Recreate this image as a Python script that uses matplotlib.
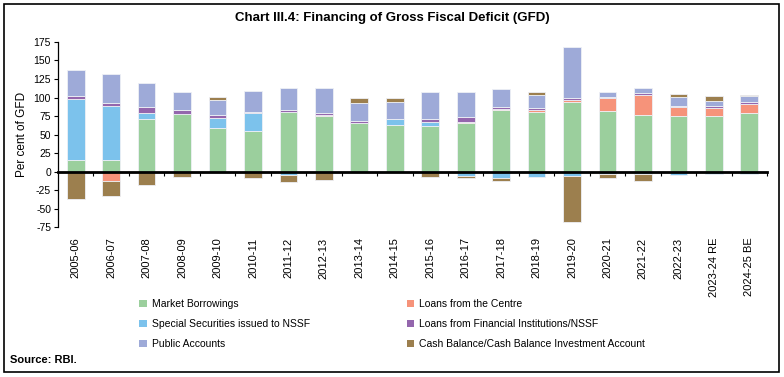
import numpy as np
import matplotlib
matplotlib.use("Agg")
import matplotlib.pyplot as plt
from matplotlib.patches import Rectangle, Patch

plt.rcParams['font.family'] = ['Liberation Sans Narrow', 'Liberation Sans', 'DejaVu Sans']
plt.rcParams['axes.unicode_minus'] = False

# ========================= DATOS =========================
years = ["2005-06", "2006-07", "2007-08", "2008-09", "2009-10", "2010-11", "2011-12",
         "2012-13", "2013-14", "2014-15", "2015-16", "2016-17", "2017-18", "2018-19",
         "2019-20", "2020-21", "2021-22", "2022-23", "2023-24 RE", "2024-25 BE"]

market_borrowings = [16, 16, 71, 78, 59, 55, 80, 75, 66, 63, 62, 65.5, 83.5, 80.5, 94, 82, 77, 75, 75.5, 78.5]
special_securities = [82, 72.5, 8, 0, 14, 24, -4.5, 0, 0, 7.5, 5.5, -5.5, -8, -7, -6, -3, -3.5, -5, -2.5, -2.5]
loans_centre = [0, -12, 0, 0, 0, 0, 0, 1.5, 0, 0, 0, 1.5, 1.5, 2, 2.5, 17, 27, 12, 11, 13]
loans_fi_nssf = [4, 4.5, 8, 4.5, 3, 2, 2.5, 2, 2.5, 0.5, 4, 7, 2.5, 3.5, 3, 1.5, 2, 1, 2.5, 2.5]
public_accounts = [35, 38.5, 32, 25, 21, 28, 31, 34, 24, 23, 35.5, 34, 24, 17, 68, 7.5, 7, 13, 6.5, 7.5]
cash_balance = [-37.5, -21, -18.5, -7, 3.5, -9, -9.5, -11.5, 7, 5.5, -7, -3, -4, 4.5, -62, -5.5, -9, 3.5, 7, 1.5]

# orden de apilado (abajo -> arriba)
series = [
    ("Market Borrowings", market_borrowings, "#9bcf9d"),
    ("Special Securities issued to NSSF", special_securities, "#7cc2ec"),
    ("Loans from the Centre", loans_centre, "#f6937a"),
    ("Loans from Financial Institutions/NSSF", loans_fi_nssf, "#9466ad"),
    ("Public Accounts", public_accounts, "#9eaad8"),
    ("Cash Balance/Cash Balance Investment Account", cash_balance, "#9c7f4e"),
]

# ========================= FIGURA =========================
fig = plt.figure(figsize=(7.84, 3.77), dpi=100)
ax = fig.add_axes([58 / 784, 1 - 227.3 / 377, 709 / 784, (227.3 - 41.9) / 377])

x = np.arange(len(years))
pos_base = np.zeros(len(years))
neg_base = np.zeros(len(years))
handles = {}
for name, vals, color in series:
    v = np.array(vals, dtype=float)
    bottom = np.where(v >= 0, pos_base, neg_base)
    ax.bar(x, v, 0.5, bottom=bottom, color=color, edgecolor="#eef0f5", linewidth=0.6, zorder=2)
    pos_base += np.where(v >= 0, v, 0)
    neg_base += np.where(v < 0, v, 0)
    handles[name] = Patch(facecolor=color, edgecolor="none")

ax.set_xlim(-0.5, len(years) - 0.5)
ax.set_ylim(-75, 175)
ax.set_yticks(np.arange(-75, 176, 25))
ax.tick_params(axis="y", labelsize=7.5, length=3, width=0.8, pad=2)
ax.set_ylabel("Per cent of GFD", fontsize=8.5, labelpad=4)

for s in ["top", "right"]:
    ax.spines[s].set_visible(False)
ax.spines["bottom"].set_position(("data", 0))
ax.spines["bottom"].set_linewidth(2)
ax.spines["bottom"].set_zorder(3)
ax.spines["left"].set_linewidth(0.9)
ax.set_xticks(x + 0.5)
ax.set_xticklabels([])
ax.tick_params(axis="x", length=3, width=0.8, direction="out")

for i, lab in enumerate(years):
    ax.text(i, -0.055, lab, transform=ax.get_xaxis_transform(), rotation=90,
            ha="center", va="top", fontsize=8)

# ========================= LEYENDA =========================
order = ["Market Borrowings", "Special Securities issued to NSSF", "Public Accounts",
         "Loans from the Centre", "Loans from Financial Institutions/NSSF",
         "Cash Balance/Cash Balance Investment Account"]
fig.legend([handles[n] for n in order], order, ncol=2, frameon=False,
           loc="upper left", bbox_to_anchor=(130 / 784, 1 - 290 / 377),
           fontsize=7.5, handlelength=0.7, handleheight=0.7, handletextpad=0.5,
           columnspacing=9.3, labelspacing=0.95)

fig.text(0.5, 1 - 18 / 377, "Chart III.4: Financing of Gross Fiscal Deficit (GFD)",
         ha="center", va="center", fontsize=9.5, fontweight="bold")
fig.text(10 / 784, 1 - 360 / 377, "Source: RBI.", ha="left", va="center",
         fontsize=8, fontweight="bold")

fig.patches.append(Rectangle((4 / 784, 5 / 377), 775 / 784, 368 / 377, transform=fig.transFigure,
                             fill=False, edgecolor="black", linewidth=1.2))

fig.savefig("out.png", dpi=100)
